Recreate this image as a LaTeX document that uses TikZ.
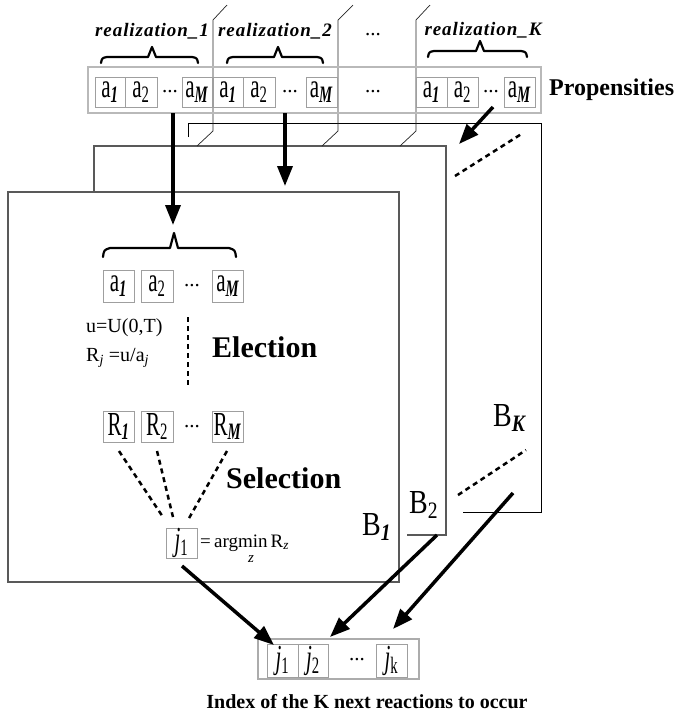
\documentclass[tikz,border=0pt]{standalone}
\usepackage{fontspec}
\setmainfont{Liberation Serif}
\usepackage{graphicx}
\usetikzlibrary{arrows.meta}
\newcommand{\vst}[1]{\scalebox{1}[1.6]{#1}}
\begin{document}
\begin{tikzpicture}[x=1pt,y=-1pt,
  cellbox/.style={draw=gray!75, line width=0.9pt, inner sep=0pt, minimum width=31pt, minimum height=30pt, font=\fontsize{21}{21}\selectfont},
  dotsnode/.style={inner sep=0pt, font=\fontsize{21}{21}\selectfont},
  bigarrow/.style={line width=3.5pt, -{Triangle[length=20pt,width=15pt]}},
  dashline/.style={line width=2.5pt, dash pattern=on 5pt off 4pt},
  framegray/.style={draw=gray!70!black, line width=1.6pt},
  sepline/.style={draw=black!85, line width=0.7pt},
  bracepath/.style={line width=2.2pt, line cap=round, line join=round},
  title/.style={inner sep=0pt, font=\bfseries\itshape\fontsize{19}{19}\selectfont\addfontfeature{LetterSpace=5}},
  bigbold/.style={inner sep=0pt, anchor=west, font=\bfseries\fontsize{30}{30}\selectfont},
  formula/.style={inner sep=0pt, anchor=west, font=\fontsize{20}{20}\selectfont},
  blabel/.style={inner sep=0pt, anchor=base west, font=\fontsize{28}{28}\selectfont},
]
\useasboundingbox (0,0) rectangle (684,716);

% ---- frames (back to front)
\draw[black, line width=0.9pt] (188,137) -- (188,123) -- (541,123) -- (541,512) -- (463,512);
\draw[framegray] (94,192) -- (94,146) -- (446,146) -- (446,535) -- (407,535);
\draw[framegray] (8,192) rectangle (399,582);

% ---- separator lines
\draw[sepline] (227,5) -- (213,20) -- (213,131) -- (197,146);
\draw[sepline] (353,5) -- (338,20) -- (338,131) -- (322,146);
\draw[sepline] (430,5) -- (416,20) -- (416,131) -- (400,146);

% ---- propensities row
\node[draw=gray!55, line width=1.2pt, minimum width=453pt, minimum height=46pt, inner sep=0pt] (prop) at (314.5,90) {};
\node[cellbox, minimum width=30pt] (p1a1) at (110,92) {\vst{a\textsubscript{\textit{\textbf{1}}}}};
\node[cellbox, minimum width=32pt] (p1a2) at (141,92) {\vst{a\textsubscript{2}}};
\node[dotsnode] (p1d) at (170,92) {...};
\node[cellbox, minimum width=30pt] (p1aM) at (197,92) {\vst{a\textsubscript{\textit{\textbf{M}}}}};
\node[cellbox, minimum width=30pt] (p2a1) at (228,92) {\vst{a\textsubscript{\textit{\textbf{1}}}}};
\node[cellbox, minimum width=32pt] (p2a2) at (259,92) {\vst{a\textsubscript{2}}};
\node[dotsnode] (p2d) at (290,92) {...};
\node[cellbox] (p2aM) at (321.5,92) {\vst{a\textsubscript{\textit{\textbf{M}}}}};
\node[dotsnode] (pmd) at (373,92) {...};
\node[dotsnode] (topd) at (373,35) {...};
\node[cellbox] (pKa1) at (431.5,92) {\vst{a\textsubscript{\textit{\textbf{1}}}}};
\node[cellbox] (pKa2) at (462.5,92) {\vst{a\textsubscript{2}}};
\node[dotsnode] (pKd) at (491,92) {...};
\node[cellbox] (pKaM) at (519.5,92) {\vst{a\textsubscript{\textit{\textbf{M}}}}};
\node[anchor=west, inner sep=0pt, font=\bfseries\fontsize{24}{24}\selectfont] (proplbl) at (549,90) {Propensities};

% ---- braces and titles
\draw[bracepath] (101,63) .. controls (102,58) .. (107,57) -- (148,57) -- (152,47) -- (156,57) -- (192,57) .. controls (197,58) .. (198,63);
\draw[bracepath] (227,63) .. controls (228,58) .. (233,57) -- (274,57) -- (278,47) -- (282,57) -- (317,57) .. controls (322,58) .. (323,63);
\draw[bracepath] (428,57) .. controls (429,52) .. (434,51) -- (476,51) -- (480,41) -- (484,51) -- (521,51) .. controls (526,52) .. (527,57);
\node[title] (t1) at (152,31) {realization\_1};
\node[title] (t2) at (275,31) {realization\_2};
\node[title] (tK) at (483,30) {realization\_K};

% ---- inside B1
\draw[bracepath] (103,257) .. controls (104,250) .. (110,248) -- (170,248) -- (174,233) -- (178,248) -- (229,248) .. controls (235,250) .. (236,257);
\node[cellbox, minimum height=32pt] (ia1) at (118.5,286) {\vst{a\textsubscript{\textit{\textbf{1}}}}};
\node[cellbox, minimum height=32pt, minimum width=32pt] (ia2) at (157,286) {\vst{a\textsubscript{2}}};
\node[dotsnode] (id) at (192,286) {...};
\node[cellbox, minimum height=32pt] (iaM) at (228,286) {\vst{a\textsubscript{\textit{\textbf{M}}}}};

\node[formula] (fu) at (86,328) {u=U(0,T)};
\node[formula] (fR) at (86,358) {R\textsubscript{\textit{j}} =u/a\textsubscript{\textit{j}}};
\coordinate (ds) at (188,317);
\coordinate (de) at (188,385);
\draw[line width=1.8pt, dash pattern=on 5pt off 4pt] (ds) -- (de);
\node[bigbold] (elec) at (212,347) {Election};

\node[cellbox, minimum height=31pt] (R1) at (118.5,426.5) {\vst{R\textsubscript{\textit{\textbf{1}}}}};
\node[cellbox, minimum height=31pt, minimum width=32pt] (R2) at (157,426.5) {\vst{R\textsubscript{2}}};
\node[dotsnode] (Rd) at (192,426.5) {...};
\node[cellbox, minimum height=31pt] (RM) at (227.5,426.5) {\vst{R\textsubscript{\textit{\textbf{M}}}}};
\node[bigbold] (sel) at (226,478) {Selection};

\node[cellbox] (j1box) at (181.5,543) {\vst{\textit{j}\textsubscript{1}}};
\node[inner sep=0pt, anchor=base west, font=\fontsize{19}{19}\selectfont] (argm) at (200,547) {=\,argmin\,R\textsubscript{\textit{z}}};
\node[inner sep=0pt, font=\itshape\fontsize{15}{15}\selectfont] (argz) at (251,559) {z};

\coordinate (r1s) at (119,451); \coordinate (r1e) at (163,517);
\coordinate (r2s) at (157,451); \coordinate (r2e) at (173,517);
\coordinate (rMs) at (227,451); \coordinate (rMe) at (188,520);
\draw[dashline] (r1s) -- (r1e);
\draw[dashline] (r2s) -- (r2e);
\draw[dashline] (rMs) -- (rMe);

% ---- B labels
\node[blabel] (B1) at (362,535) {\scalebox{1}[1.2]{B\textsubscript{\textit{\textbf{1}}}}};
\node[blabel] (B2) at (409,513) {\scalebox{1}[1.2]{B\textsubscript{2}}};
\node[blabel] (BK) at (493,426) {\scalebox{1}[1.2]{B\textsubscript{\textit{\textbf{K}}}}};

% ---- dashed diagonal lines
\coordinate (dd1s) at (455,176); \coordinate (dd1e) at (523,133);
\coordinate (dd2s) at (458,495); \coordinate (dd2e) at (526,450);
\draw[dashline] (dd1s) -- (dd1e);
\draw[dashline] (dd2s) -- (dd2e);

% ---- bottom result row
\node[draw=gray!65, line width=1.1pt, minimum width=161pt, minimum height=40pt, inner sep=0pt] (res) at (338.5,659) {};
\node[cellbox, minimum height=33pt] (rj1) at (282.5,660.5) {\vst{\textit{j}\textsubscript{1}}};
\node[cellbox, minimum height=33pt, minimum width=30pt] (rj2) at (313,660.5) {\vst{\textit{j}\textsubscript{2}}};
\node[dotsnode] (rjd) at (357,660) {...};
\node[cellbox, minimum height=33pt] (rjk) at (391.5,660.5) {\vst{\textit{j}\textsubscript{k}}};
\node[inner sep=0pt, font=\bfseries\fontsize{20}{20}\selectfont] (cap) at (367,702) {Index of the K next reactions to occur};

% ---- thick arrows
\coordinate (a1s) at (173,113); \coordinate (a1e) at (173,225);
\coordinate (a2s) at (285,113); \coordinate (a2e) at (285,186);
\coordinate (a3s) at (493,107); \coordinate (a3e) at (459,144);
\coordinate (a4s) at (182,566); \coordinate (a4e) at (274,645);
\coordinate (a5s) at (437,535); \coordinate (a5e) at (330,637);
\coordinate (a6s) at (513,493); \coordinate (a6e) at (393,629);
\draw[bigarrow] (a1s) -- (a1e);
\draw[bigarrow] (a2s) -- (a2e);
\draw[bigarrow] (a3s) -- (a3e);
\draw[bigarrow] (a4s) -- (a4e);
\draw[bigarrow] (a5s) -- (a5e);
\draw[bigarrow] (a6s) -- (a6e);
\end{tikzpicture}
\end{document}
